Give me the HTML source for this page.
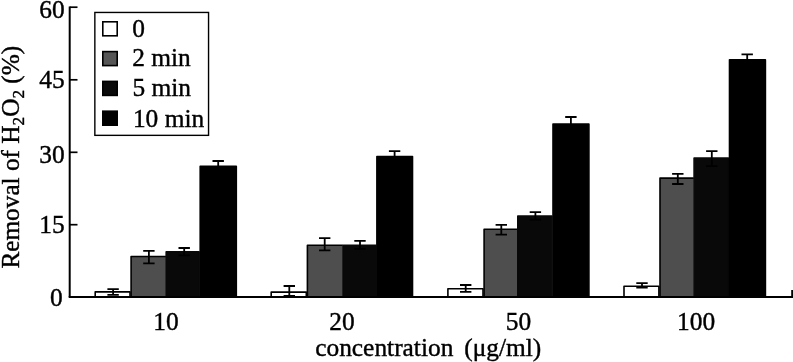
<!DOCTYPE html>
<html lang="en">
<head>
<meta charset="utf-8">
<title>Removal of H2O2</title>
<style>
html,body{margin:0;padding:0;background:#fff;}
body{width:793px;height:362px;overflow:hidden;}
svg{display:block;}
text{font-family:"Liberation Serif",serif;font-size:25.4px;fill:#000;stroke:#000;stroke-width:0.4px;}
</style>
</head>
<body>
<svg width="793" height="362" viewBox="0 0 793 362">
<rect x="0" y="0" width="793" height="362" fill="#fff"/>

<g stroke="#000" stroke-width="1.60" stroke-linejoin="round">
<rect x="95.20" y="291.90" width="34.80" height="5.10" fill="#ffffff"/>
<rect x="131.10" y="256.50" width="34.80" height="40.50" fill="#4e4e4e" stroke="none"/>
<path d="M131.10 297.00V256.50H165.90" fill="none"/>
<rect x="166.20" y="251.80" width="32.90" height="45.20" fill="#090909" stroke="#090909"/>
<rect x="200.20" y="166.20" width="36.10" height="130.80" fill="#000000" stroke="#000000"/>
<rect x="271.20" y="292.10" width="35.10" height="4.90" fill="#ffffff"/>
<rect x="307.40" y="245.20" width="35.30" height="51.80" fill="#4e4e4e" stroke="none"/>
<path d="M307.40 297.00V245.20H342.70" fill="none"/>
<rect x="343.00" y="245.20" width="32.80" height="51.80" fill="#090909" stroke="#090909"/>
<rect x="376.90" y="156.50" width="35.60" height="140.50" fill="#000000" stroke="#000000"/>
<rect x="447.90" y="288.70" width="35.10" height="8.30" fill="#ffffff"/>
<rect x="484.10" y="229.30" width="33.40" height="67.70" fill="#4e4e4e" stroke="none"/>
<path d="M484.10 297.00V229.30H517.50" fill="none"/>
<rect x="517.80" y="216.00" width="34.10" height="81.00" fill="#090909" stroke="#090909"/>
<rect x="553.00" y="124.00" width="35.90" height="173.00" fill="#000000" stroke="#000000"/>
<rect x="624.00" y="286.20" width="34.90" height="10.80" fill="#ffffff"/>
<rect x="660.00" y="178.10" width="33.80" height="118.90" fill="#4e4e4e" stroke="none"/>
<path d="M660.00 297.00V178.10H693.80" fill="none"/>
<rect x="694.10" y="158.00" width="34.30" height="139.00" fill="#090909" stroke="#090909"/>
<rect x="729.50" y="59.80" width="35.90" height="237.20" fill="#000000" stroke="#000000"/>
</g>
<g stroke="#000" stroke-width="1.8" fill="none">
<path d="M107.40 289.10H118.80M107.40 294.80H118.80M113.10 289.10V294.80"/>
<path d="M143.20 250.80H154.60M143.20 263.40H154.60M148.90 250.80V263.40"/>
<path d="M178.50 248.00H189.90M178.50 255.30H189.90M184.20 248.00V255.30"/>
<path d="M212.50 161.00H223.90M212.50 170.00H223.90M218.20 161.00V170.00"/>
<path d="M283.60 286.00H295.00M283.60 296.00H295.00M289.30 286.00V296.00"/>
<path d="M319.00 238.10H330.40M319.00 250.40H330.40M324.70 238.10V250.40"/>
<path d="M354.30 240.80H365.70M354.30 248.80H365.70M360.00 240.80V248.80"/>
<path d="M388.90 151.10H400.30M388.90 160.00H400.30M394.60 151.10V160.00"/>
<path d="M460.00 285.00H471.40M460.00 291.80H471.40M465.70 285.00V291.80"/>
<path d="M495.60 224.90H507.00M495.60 234.70H507.00M501.30 224.90V234.70"/>
<path d="M529.70 212.20H541.10M529.70 219.60H541.10M535.40 212.20V219.60"/>
<path d="M565.20 117.00H576.60M565.20 129.00H576.60M570.90 117.00V129.00"/>
<path d="M636.30 283.20H647.70M636.30 287.60H647.70M642.00 283.20V287.60"/>
<path d="M672.10 173.80H683.50M672.10 184.00H683.50M677.80 173.80V184.00"/>
<path d="M706.10 151.20H717.50M706.10 166.20H717.50M711.80 151.20V166.20"/>
<path d="M741.50 54.40H752.90M741.50 64.00H752.90M747.20 54.40V64.00"/>
</g>
<g stroke="#000" stroke-width="2" fill="none">
<path d="M69.7 6.4V297.0"/>
<path d="M68.7 297.0H793"/>
<path d="M792.2 290V297.0"/>
</g>
<g stroke="#000" stroke-width="1.7" fill="none">
<path d="M69.7 7.20H77.5"/>
<path d="M69.7 79.80H77.5"/>
<path d="M69.7 152.30H77.5"/>
<path d="M69.7 224.70H77.5"/>
</g>
<text x="64.6" y="17.5" text-anchor="end">60</text>
<text x="64.6" y="88.0" text-anchor="end">45</text>
<text x="64.6" y="162.8" text-anchor="end">30</text>
<text x="64.6" y="233.4" text-anchor="end">15</text>
<text x="62.6" y="305.5" text-anchor="end">0</text>
<text x="165.9" y="330.0" text-anchor="middle">10</text>
<text x="342.0" y="330.0" text-anchor="middle">20</text>
<text x="518.4" y="330.0" text-anchor="middle">50</text>
<text x="696.1" y="330.0" text-anchor="middle">100</text>
<text x="315.2" y="356.0">concentration</text>
<text x="464.2" y="356.0">(μg/ml)</text>
<text transform="translate(18.5 268.6) rotate(-90)" style="font-size:25.28px">Removal of H<tspan font-size="17.2" dy="5.4">2</tspan><tspan dy="-5.4">O</tspan><tspan font-size="17.2" dy="5.4">2</tspan><tspan dy="-5.4"> (%)</tspan></text>
<rect x="94.85" y="12.45" width="113.7" height="122.9" fill="#fff" stroke="#000" stroke-width="1.4"/>
<rect x="102.8" y="21.80" width="14.4" height="14.0" fill="#ffffff" stroke="#000" stroke-width="1.6"/>
<text x="132.2" y="36.6">0</text>
<rect x="102.8" y="51.60" width="14.4" height="14.0" fill="#565656" stroke="#000" stroke-width="1.6"/>
<text x="132.2" y="65.6">2 min</text>
<rect x="102.8" y="81.40" width="14.4" height="14.0" fill="#0a0a0a" stroke="#000" stroke-width="1.6"/>
<text x="132.5" y="96.3">5 min</text>
<rect x="102.8" y="111.20" width="14.4" height="14.0" fill="#000000" stroke="#000" stroke-width="1.6"/>
<text x="132.9" y="127.1">10 min</text>
</svg>
</body>
</html>
